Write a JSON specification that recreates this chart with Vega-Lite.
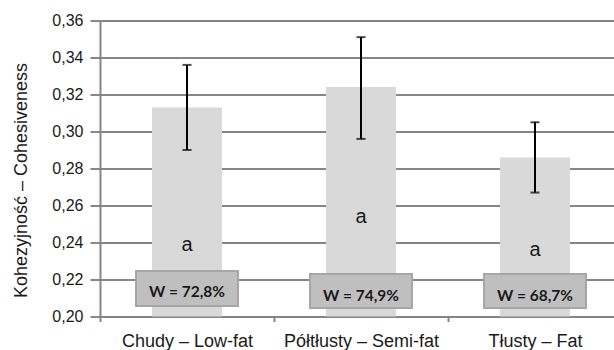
{
  "$schema": "https://vega.github.io/schema/vega-lite/v6.json",
  "width": 514,
  "height": 296,
  "autosize": {"type": "none"},
  "padding": {"left": 100, "top": 20.5, "right": 0, "bottom": 33.5},
  "background": "white",
  "config": {
    "view": {"stroke": null},
    "font": "Liberation Sans",
    "axisY": {
      "tickCount": 8,
      "labelExpr": "replace(format(datum.value, '.2f'), '.', ',')",
      "labelFontSize": 16,
      "labelColor": "#1a1a1a",
      "labelPadding": 7,
      "tickSize": 10,
      "tickColor": "#868686",
      "tickWidth": 2,
      "domainColor": "#868686",
      "domainWidth": 2,
      "grid": true,
      "gridColor": "#868686",
      "gridWidth": 2,
      "titleFontSize": 18,
      "titleFontWeight": "normal",
      "titleColor": "#1a1a1a",
      "titleX": -73.5,
      "titleY": 159.5,
      "titleAngle": -90,
      "titleAlign": "center",
      "titleBaseline": "alphabetic"
    },
    "axisX": {
      "labelAngle": 0,
      "labelFontSize": 18,
      "labelColor": "#1a1a1a",
      "labelPadding": 11,
      "domainColor": "#868686",
      "domainWidth": 2,
      "tickColor": "#868686",
      "tickWidth": 2,
      "tickSize": 5,
      "tickBand": "extent",
      "grid": false
    }
  },
  "data": {
    "values": [
      {"cat": "Chudy – Low-fat", "mean": 0.313, "lo": 0.290, "hi": 0.336, "grp": "a", "grpY": 0.2387, "w": "W = 72,8%", "boxLo": 0.2057, "boxHi": 0.2246, "wY": 0.2132},
      {"cat": "Półtłusty – Semi-fat", "mean": 0.324, "lo": 0.296, "hi": 0.351, "grp": "a", "grpY": 0.2538, "w": "W = 74,9%", "boxLo": 0.2046, "boxHi": 0.2230, "wY": 0.2111},
      {"cat": "Tłusty – Fat", "mean": 0.286, "lo": 0.267, "hi": 0.305, "grp": "a", "grpY": 0.2357, "w": "W = 68,7%", "boxLo": 0.2046, "boxHi": 0.2230, "wY": 0.2111}
    ]
  },
  "encoding": {
    "x": {
      "field": "cat",
      "type": "nominal",
      "sort": null,
      "title": null,
      "scale": {"range": [0, 522], "paddingInner": 0, "paddingOuter": 0}
    }
  },
  "layer": [
    {
      "mark": {"type": "bar", "color": "#d9d9d9", "width": {"band": 0.402}},
      "encoding": {
        "y": {
          "field": "mean",
          "type": "quantitative",
          "title": "Kohezyjność – Cohesiveness",
          "scale": {"domain": [0.2, 0.36], "zero": false, "nice": false}
        },
        "y2": {"datum": 0.2}
      }
    },
    {
      "mark": {
        "type": "errorbar",
        "rule": {"color": "#000000", "strokeWidth": 2},
        "ticks": {"color": "#000000", "size": 9, "thickness": 2}
      },
      "encoding": {
        "y": {"field": "lo", "type": "quantitative", "title": "Kohezyjność – Cohesiveness"},
        "y2": {"field": "hi"}
      }
    },
    {
      "mark": {"type": "text", "fontSize": 20, "color": "#1a1a1a", "baseline": "middle"},
      "encoding": {
        "y": {"field": "grpY", "type": "quantitative", "title": "Kohezyjność – Cohesiveness"},
        "text": {"field": "grp"}
      }
    },
    {
      "mark": {"type": "bar", "color": "#bfbfbf", "stroke": "#a6a6a6", "strokeWidth": 2, "width": {"band": 0.586}},
      "encoding": {
        "y": {"field": "boxLo", "type": "quantitative", "title": "Kohezyjność – Cohesiveness"},
        "y2": {"field": "boxHi"}
      }
    },
    {
      "mark": {"type": "text", "font": "Lato", "fontWeight": "bold", "fontSize": 15.5, "color": "#1a1a1a", "baseline": "middle"},
      "encoding": {
        "y": {"field": "wY", "type": "quantitative", "title": "Kohezyjność – Cohesiveness"},
        "text": {"field": "w"}
      }
    }
  ]
}
